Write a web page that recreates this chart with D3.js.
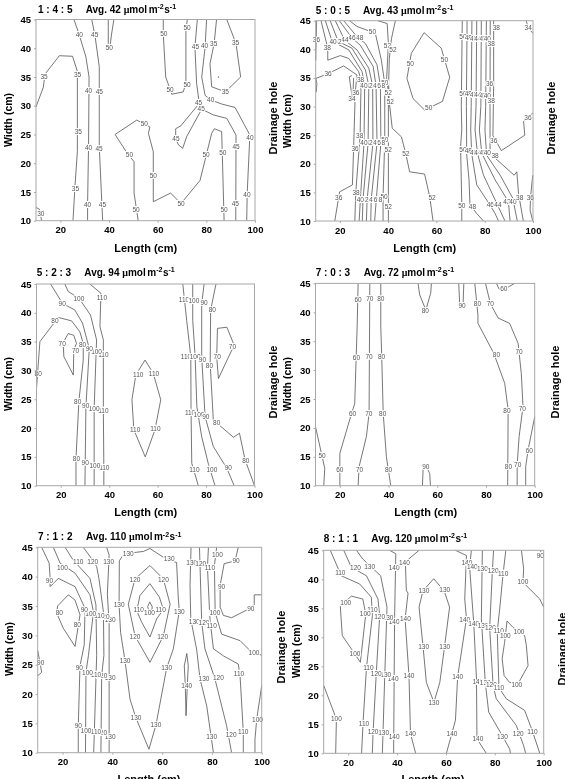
<!DOCTYPE html>
<html>
<head>
<meta charset="utf-8">
<script src="https://cdn.jsdelivr.net/npm/d3@7"></script>
<style>
  html, body { margin: 0; padding: 0; background: #fff; overflow: hidden; }
  text { font-family: "Liberation Sans", Arial, sans-serif; }
  /* The figure is monochrome: keep small glyph edges free of colour fringes. */
  #chart { display: block; filter: grayscale(1); }
</style>
</head>
<body>
<svg id="chart" width="565" height="779"></svg>
<script>
// Light-intensity contour maps over the growing bed, one panel per LED ratio.
const ratios = ["1 : 4 : 5", "5 : 0 : 5", "5 : 2 : 3", "7 : 0 : 3", "7 : 1 : 2", "8 : 1 : 1"];
const averages = [42, 43, 94, 72, 110, 120];
const lengthTicks = [20, 40, 60, 80, 100];
const widthTicks = [10, 15, 20, 25, 30, 35, 40, 45];
const lengthDomain = [10, 100];
const widthDomain = [10, 45];

// Isolines: [level, [length, width], [length, width], ...]
const contours145 = [
  [30, [10,12.3],[11.4,12],[12.3,10]],
  [35, [10,29.8],[13,33.2],[13.7,35.5],[19.6,38.7],[25,38.6],[27,36],[27,25],[27,22],[26,15.9],[25.2,10]],
  [40, [25.6,45],[27.8,42.3],[30.5,38.5],[31.8,35],[31.6,22.9],[31.2,13],[31.2,10]],
  [45, [32.9,45],[34.2,42.3],[36,36.8],[36,22.9],[37,13.6],[37.4,10]],
  [50, [39.7,45],[39.7,40.8],[40.4,40.2],[41,42.3],[42,45]],
  [50, [52,10],[50.3,14.8],[50.3,20.3],[48,21.4],[42.5,25],[51.4,27.5],[56.8,26.3],[56.2,25.2],[58.2,22],[58.2,13.3],[65.3,14.8],[69.6,13],[77.4,17],[82.2,25.2],[83.3,26],[86.3,25.5],[86.7,19.4],[87.3,10]],
  [50, [62.3,45],[62.3,42.5],[63.3,35],[65,33],[65.8,32],[70.5,32.4],[71.6,33.9],[71.6,43.1],[72.2,45]],
  [45, [76.3,45],[75.3,40.2],[76,33.9],[77.1,30.4],[69.5,26.5],[67.4,26],[67.4,24.3],[68.5,23.2],[70.3,22.6],[71.9,24.6],[78.1,29.4],[82.9,28.4],[88.4,27.8],[92.2,24.9],[92.1,10]],
  [40, [80.1,45],[79.5,40.2],[78.1,35],[79.5,31.8],[81.8,31],[86.3,30.3],[91.8,29.7],[97.9,24.9],[96.8,14.8],[96.6,10]],
  [35, [84.2,45],[83.2,40.8],[81.5,37.3],[82.2,33.3],[87.8,32.4],[94.1,35],[92.2,40.8],[88.4,45]]
];
const labels145 = [
  [30,12,11.3],
  [35,13.3,35],[35,27.1,35.4],[35,27.4,25.5],[35,26.2,15.6],[35,87.8,32.4],[35,83,40.7],[35,92,41],
  [40,27.8,42.3],[40,31.6,32.6],[40,31.6,22.7],[40,31.2,12.7],[40,79.3,40.4],[40,81.8,31],[40,97.9,24.5],[40,96.7,14.6],
  [45,34.1,42.3],[45,36,32.5],[45,35.9,22.6],[45,37.3,12.7],[45,75.5,40.2],[45,76.8,30.5],[45,77.9,29.5],[45,67.5,24.3],[45,92.2,22.8],[45,91.9,12.9],
  [50,40.1,40.1],[50,54.5,26.9],[50,48.4,21.4],[50,58.2,17.8],[50,51.1,11.9],[50,69.6,13],[50,79.9,21.5],[50,86.8,21.8],[50,87.3,11.9],[50,62.5,42.5],[50,65.1,32.7],[50,72.1,43.5],[50,72.1,33.6]
];
const samplePoint145 = [85, 35];

const contours505 = [
  [36, [10.4,45],[10.2,41.9],[10,38]],
  [36, [10,35],[10.5,34],[10.2,32.5]],
  [36, [10,34.9],[15.4,35.8],[21.6,37.1],[27.1,35.5],[26.4,32.6],[25.7,22.6],[25.2,16.3],[19.9,15.1],[17.9,10]],
  [34, [25,35.4],[23.9,35.2],[25,31.9],[25.4,31.5],[25.7,35]],
  [38, [12.2,45],[15,40.2],[15,38.1],[20.2,38.9],[23.7,38.4],[27.8,36.1],[28.8,34.6],[28.4,25],[26.6,15],[26.2,10]],
  [40, [14,45],[16.8,41.4],[23.7,39.9],[29.2,36.1],[30.3,33.8],[30,23.6],[28.5,13.8],[28,10]],
  [42, [16,45],[19.3,41.4],[25,40.2],[30.6,36.4],[32,33.6],[31.7,23.6],[29.6,13.8],[29.3,10]],
  [44, [18.1,45],[22,41.6],[27.1,39.9],[32,36.7],[33.6,33.6],[33.7,23.6],[31.3,13.8],[31,10]],
  [46, [19.8,45],[25,42],[28.5,40.7],[33.8,37],[35,33.6],[35.4,23.6],[33,13.8],[32.8,10]],
  [48, [21.6,45],[27.1,42.2],[30.6,41],[35.4,37.3],[36.8,33.6],[37,23.6],[35.1,13.8],[34.4,10]],
  [50, [24,45],[27.1,44],[34.7,42.8],[37.2,38.1],[38.6,34],[38.6,24.2],[37.9,14.3],[37.9,10]],
  [52, [35.7,45],[39.6,44.5],[40.1,41],[39.4,35],[40.1,32.5],[40.1,10]],
  [52, [43,45],[41.4,41.9],[40.5,38.4],[40.2,34],[40.4,31],[41.7,26.2],[45.5,24.7],[47.3,21.8],[48.9,18.6],[55.1,18.2],[57.2,14.3],[58.6,10]],
  [50, [54.9,42.9],[62,40.2],[65.5,35.1],[62.5,30.9],[55.1,29.4],[50.3,31.4],[47.8,34.9],[49.6,39.3],[54.9,42.9]],
  [50, [70.7,45],[70.3,30],[70.5,25.9],[70,23],[70.5,13.1],[70.5,10]],
  [48, [72.7,45],[72.4,30],[72.5,25.9],[72.5,21.8],[73.5,17.2],[73.9,12.8],[76.7,11.3],[79.5,10]],
  [46, [74.7,45],[74.4,30],[74.2,25.9],[74.6,21.8],[76.7,16.3],[82.2,12.8],[84.3,11.3],[85.7,10]],
  [44, [76.7,45],[76.4,30],[76,25.9],[77,21.8],[79.5,18],[85.3,12.8],[88.4,10]],
  [42, [78.6,45],[78.4,30],[77.8,25.9],[78.8,21.8],[84.3,17.2],[89.8,13.4],[90.5,10]],
  [40, [80.7,45],[80.4,30],[80.1,25.9],[80.8,21.5],[86.4,18],[91.6,14],[93.5,10]],
  [38, [82.3,45],[82.2,30],[82.2,25.9],[82.2,22.1],[84.3,21],[92.2,18],[93.3,18.6],[94,14.8],[96,10]],
  [36, [83.7,45],[83.7,34],[83.4,24.9],[86.9,22.3],[96.6,25],[96.1,27.4],[100,28.9]],
  [34, [97.2,45],[98,43.7],[100,42.8]],
  [36, [99.9,18],[99,14.3],[98.8,11.9],[99.9,10]]
];
const labels505 = [
  [34,25,31.3],[34,98,43.7],
  [36,10.3,41.6],[36,15.1,35.8],[36,26.6,32.5],[36,26.3,22.6],[36,19.5,14],[36,82,33.9],[36,83.7,24],[36,97.9,28.1],[36,98.9,14.1],
  [38,14.8,40.2],[38,28.6,34.6],[38,28.2,24.9],[38,26.7,15],[38,84.8,43.7],[38,82.7,41],[38,82.7,31.1],[38,84.3,21.4],[38,94.5,14],
  [40,17.2,41.3],[42,19.2,41.4],[44,22.1,41.6],[46,25,42],[48,28.2,42],[50,33.5,43],[52,39.7,40.6],[52,42,40],
  [40,30,33.6],[42,32.1,33.6],[44,33.7,33.6],[46,35.5,33.6],[48,37.3,33.6],[50,38.6,34.1],
  [40,30,23.7],[42,32.1,23.7],[44,33.7,23.7],[46,35.5,23.7],[48,37.3,23.7],[50,38.6,24.2],
  [40,28.5,13.8],[42,30.4,13.8],[44,32.1,13.8],[46,34,13.8],[48,36.1,13.8],[50,38.3,14.3],
  [52,40,32.4],[52,40.9,30.9],[52,40,22.4],[52,47.3,21.8],[52,58.2,14.1],[52,40.1,12.5],
  [50,49.2,37.5],[50,63.3,38.2],[50,56.8,29.8],
  [50,71,42.2],[48,73.2,42.1],[46,75.4,41.9],[44,77.2,41.9],[42,79.3,41.8],[40,81.1,41.8],
  [50,71,32.3],[48,73.2,32.2],[46,75.4,32],[44,77.2,32],[42,79.3,31.9],[40,81.1,31.9],
  [50,71,22.4],[48,73.2,22.2],[46,75.4,22],[44,77.2,22],[42,79.3,21.9],[40,81.1,21.9],
  [50,70.5,12.6],[48,74.9,12.5],[46,82.3,12.8],[44,85.5,12.8],[42,89.2,13.3],[40,91.7,13.4]
];

const contours523 = [
  [80, [10,26.9],[11.4,35],[19,39.2],[24.5,38.6],[27.9,36.7],[29.3,34.7],[29.3,31.8],[27.5,24.6],[26.3,14.7],[26.3,10]],
  [70, [21,34.8],[23.1,36.4],[25.4,36.1],[26.5,34.7],[25.4,33.5],[25.2,29.2],[21.3,32.4],[21,34.8]],
  [90, [15.8,45],[20.8,41.6],[25.8,40.5],[29,38.2],[31.8,33.8],[30.4,23.7],[30,10]],
  [100, [21.7,45],[23.1,43.7],[27.6,42.5],[32.3,39.6],[34.8,35.3],[33.8,23.4],[33.8,10]],
  [110, [32,45],[36.6,43.4],[36.2,37.6],[37.6,35.3],[37.6,23.1],[37.8,13.3],[37.8,10]],
  [110, [54.8,31.8],[58.2,29.5],[61.3,24.9],[58.9,19.7],[54.9,15],[50.2,19.7],[49.4,24.9],[51,29.2],[54.8,31.8]],
  [110, [70.4,45],[72,38.7],[73.7,32.4],[73.8,23.1],[74.1,13.9],[76.8,10]],
  [100, [74.5,45],[74.5,38.7],[75.5,32.4],[76.2,23.7],[78.2,18.5],[81,13.7],[83.7,10]],
  [90, [79.2,45],[78.2,41.6],[78.2,32.4],[79.6,22],[83,16.8],[88.6,13],[91.6,10]],
  [80, [84.1,45],[81.9,40.5],[81.7,31.2],[83,21.4],[91.3,18.4],[93.8,19.1],[96.1,14.5],[100,10]],
  [70, [84.7,37.3],[88.6,37.5],[91.6,34.4],[85.1,28.6],[84.4,32.4],[84.7,37.3]]
];
const labels523 = [
  [70,20.6,34.6],[70,26.1,33.4],[70,84.6,32.3],[70,90.9,34.2],
  [80,10.7,29.5],[80,17.6,38.6],[80,29,34.4],[80,27,24.6],[80,26.5,14.7],[80,82.6,40.6],[80,81.4,30.8],[80,84.4,21],[80,96.4,14.3],
  [90,20.6,41.5],[90,31.8,33.7],[90,30.3,23.8],[90,30.1,14],[90,79.2,41.7],[90,78.5,31.8],[90,79.9,22],[90,89.2,13.2],
  [100,27.5,42.4],[100,34.8,33.3],[100,33.8,23.4],[100,34.1,13.5],[100,75,42.1],[100,75.5,32.3],[100,77.1,22.4],[100,82.4,12.7],
  [110,37,42.7],[110,37.6,32.8],[110,37.6,23],[110,38,13.1],[110,52,29.3],[110,58.5,29.4],[110,50.7,19.7],[110,59.1,19.8],[110,70.9,42.2],[110,71.7,32.4],[110,73.4,22.6],[110,75.2,12.7]
];

const contours703 = [
  [50, [10,20.2],[13.8,13],[13.4,10]],
  [60, [27.5,45],[27.1,37.5],[26.1,24.2],[24.8,22.5],[20,15.6],[20,10]],
  [70, [32.3,45],[32,22.5],[30.9,18.5],[27.9,13.3],[27.5,10]],
  [80, [36.8,45],[36.8,37.5],[37.2,32.3],[37.8,22.5],[39.1,15],[40.9,10]],
  [80, [52.1,45],[52.8,43],[55.3,40.4],[57.3,43.3],[57.6,45]],
  [90, [68.8,45],[69.2,41.5],[70.6,41.5],[70.9,45]],
  [80, [75.4,45],[76.7,39.5],[76.7,38.1],[83.2,32.9],[87.7,27.7],[89.1,23.1],[88.9,10]],
  [70, [79.8,45],[81.8,41.5],[85,39],[89.7,38.1],[93.2,34.6],[94.5,29.4],[95.2,23.7],[93.6,18.5],[92.8,13.6],[92.8,10]],
  [60, [84.3,45],[85.4,44],[87.3,43.9],[89.7,44.5],[91.8,45]],
  [60, [100,21.9],[97.3,16.2],[96.3,13.3],[96.3,10]],
  [90, [53.9,10],[54.2,13],[55.6,13.3],[56.9,12.1],[57.2,10]]
];
const labels703 = [
  [50,12.7,15.1],
  [60,27.5,42.1],[60,26.8,32.2],[60,25.2,22.4],[60,20,12.8],[60,87.3,44],[60,97.8,16],
  [70,32.3,42.3],[70,32,32.4],[70,31.9,22.5],[70,28.1,12.7],[70,81.8,41.5],[70,93.6,33.2],[70,94.9,23.4],[70,93,13.6],
  [80,36.8,42.3],[80,37.1,32.4],[80,37.6,22.5],[80,40,12.7],[80,55.1,40.3],[80,76.5,41.5],[80,84.3,32.6],[80,88.6,23],[80,89.2,13.2],
  [90,70.2,41.2],[90,55.3,13.3]
];

const contours712 = [
  [90, [11.6,45],[14.6,42.3],[15,39.7],[15,38.3],[18.3,39.7],[25,38.3],[29,34.6],[28.7,28.4],[27,24.8],[26.3,14.6],[26.3,10]],
  [80, [18,35],[22.3,36.9],[25,36],[27,33.5],[25,28.1],[20.3,31.2],[17.6,33.8],[18,35]],
  [100, [16.3,45],[19,42.3],[25,40.6],[31,36.9],[32.4,34],[30.4,26.6],[29.4,23.7],[29.2,10]],
  [110, [21,45],[24.3,42.8],[31,39.7],[33.4,35.2],[33.7,26.6],[32.5,10]],
  [120, [28.3,45],[31.6,43.1],[33.7,41.7],[34.6,39.7],[36.4,34],[36.6,26.6],[35.7,23.1],[35.4,10]],
  [130, [37.7,45],[38.7,43.7],[38,37],[38.7,32],[38.7,26.6],[38.7,10]],
  [130, [44.7,43.9],[52.5,44.3],[55.1,44.8],[61.2,43.1],[65.8,42.4],[66.5,36.2],[66.9,34.2],[64.5,27.7],[61.8,24.4],[57.5,14.7],[54.7,10.6],[49.5,15.9],[47.1,19.1],[45.1,25.6],[43.3,30.5],[42.7,35.3],[42.8,42.7],[44.7,43.9]],
  [120, [55.1,41.9],[60.5,39.6],[63.2,35.3],[60.5,29.9],[55.1,25.4],[49.1,29.9],[46.4,35.3],[49.1,39.6],[55.1,41.9]],
  [110, [55.1,38.8],[58.9,36.5],[60.5,34.4],[57.8,32.8],[55.1,29.7],[51.8,32.2],[49.8,34.2],[51.1,36.8],[55.1,38.8]],
  [100, [55,35.7],[54.2,34.9],[54.5,34.4],[55.9,34.4],[56,34.9],[55,35.7]],
  [140, [69.9,26.9],[68.9,24.8],[69.3,21.4],[69.6,16.3],[70.1,21.4],[70.5,24.8],[69.9,26.9]],
  [130, [71.6,45],[71.2,38.5],[71.5,32.8],[73.9,27.5],[75.2,22.6],[77.9,18],[80.6,10]],
  [120, [75,45],[75.2,42.2],[75.9,32.2],[77.2,27.7],[81.2,22.6],[85.9,14.6],[87.9,10]],
  [110, [78.6,45],[78.2,41.6],[79.2,32.8],[80.6,27.7],[84.6,26.5],[90.6,25.1],[91.3,23.1],[92.6,13.6],[92.6,10]],
  [100, [81.9,45],[81,41.9],[81.3,33.9],[83.9,30.2],[91.3,29.1],[95.3,27.4],[100,26.6]],
  [90, [90.6,45],[89.3,42.7],[84.9,42.2],[83.3,38.5],[83.3,34.8],[84.6,33.4],[87.9,33],[95.3,34.6],[97,35.2],[97,36.9],[100,36.9]],
  [90, [10,27.4],[10.9,25.4],[11.6,23.7],[10,23.1]],
  [100, [100,21.4],[98,15.7],[97.3,12.3],[97.3,10]]
];
const labels712 = [
  [80,18.7,33.8],[80,25.9,31.8],
  [90,14.7,39.3],[90,28.7,34.4],[90,26.7,24.5],[90,26.3,14.6],[90,89.7,42.7],[90,83.9,38.3],[90,95.6,34.6],[90,11.2,25.4],
  [100,19.9,41.6],[100,31.3,33.6],[100,30,23.7],[100,29.4,13.8],[100,54.9,33.9],[100,82.2,43.7],[100,81.2,33.8],[100,96.9,27.1],[100,98.3,15.7],
  [110,26.3,42.6],[110,34.8,33.4],[110,33.4,23.3],[110,33.4,13.5],[110,50.6,34.3],[110,59.4,34.3],[110,79.2,41.5],[110,79.9,31.6],[110,90.9,23.5],[110,92.6,13.6],
  [120,32.1,42.6],[120,36.7,33.2],[120,35.8,23.2],[120,35.7,13.4],[120,49.1,39.4],[120,60.5,39.4],[120,49.1,29.8],[120,60.2,29.8],[120,75.5,42.2],[120,76.8,32.2],[120,82.6,22.7],[120,87.7,13],
  [130,38.5,42.6],[130,39.1,32.7],[130,39.1,22.7],[130,39.1,12.8],[130,46.4,43.9],[130,62.8,43.1],[130,42.7,35.3],[130,66.9,34.1],[130,45.1,25.6],[130,61.8,24.4],[130,49.5,15.9],[130,57.5,14.7],[130,71.9,42.3],[130,72.9,32.3],[130,76.8,22.6],[130,79.9,12.8],
  [140,69.9,21.4]
];

const contours811 = [
  [100, [10,21.7],[15.2,15.9],[14.9,10]],
  [100, [16.8,35.3],[21.3,37.1],[26,36.6],[27.2,34],[25,25.7],[17.6,30.3],[16.8,35.3]],
  [110, [12.7,45],[17.2,40.6],[24.7,39.2],[29.5,36.9],[29.9,33.7],[27.5,24.8],[26.1,15.3],[25.5,10]],
  [120, [18.2,45],[21.3,42.1],[27.5,40.6],[32.2,36.6],[32.9,33.7],[31.5,23.7],[30.2,13.6],[29.9,10]],
  [130, [23.4,45],[26,43.5],[33.3,40.6],[35.9,35.2],[35,23.7],[34,10]],
  [140, [37,45],[39.5,44.4],[39,33.2],[38.6,10]],
  [140, [49,45],[43.4,43],[43.8,38.1],[44.5,37.6],[43.3,33.2],[44.9,23.3],[45.5,13.4],[47.6,10]],
  [130, [55,40.1],[59.3,38],[61.5,35.2],[59.5,28.6],[57.5,22.2],[55.1,18.8],[52,22.2],[50.6,28.6],[49,35.2],[50.6,38],[55,40.1]],
  [140, [63.9,45],[68.4,44.1],[67.7,36.6],[68.4,33.2],[64.8,23.2],[63.9,15.7],[60.2,10]],
  [140, [70.4,45],[69.7,42.1],[71.4,32.3],[72.5,22.8],[72.7,12.5],[76.5,10]],
  [130, [74.9,45],[74.5,33.2],[76.1,22.2],[77.5,17.1],[83.4,12.8],[86.1,10.7],[86.4,10]],
  [120, [79.5,45],[79,41.5],[77.9,31.6],[79.3,21.7],[80.6,19.4],[88.8,14.8],[91.8,11.3],[92.6,10]],
  [110, [84.5,45],[83.4,41],[82,34.9],[81,31],[81.7,21.3],[84.7,19.4],[92.2,17.4],[95.4,13.8],[98.4,10]],
  [100, [90.9,45],[91.8,41.8],[91.5,39.5],[98.4,36.6],[100,35.2]],
  [90, [98.5,45],[100,44]],
  [100, [85,32.8],[87.5,31.7],[92.2,30.3],[92.9,28.6],[93.6,25.1],[89.5,22],[86.1,22.2],[83.8,23.4],[83,26.3],[84,29.1],[85,32.8]]
];
const labels811 = [
  [90,98.6,44],
  [100,15.2,16],[100,19,36],[100,27,34],[100,22.8,27.1],[100,91.5,39.5],[100,89.9,31],[100,84.3,30.2],[100,89,21.9],
  [110,16.8,41.2],[110,29.9,34.8],[110,28.3,24.8],[110,26.5,15.1],[110,83.4,41],[110,81.6,31.1],[110,81.7,21.3],[110,95.4,13.8],
  [120,23,42],[120,32.9,33.6],[120,31.5,23.7],[120,30.2,13.8],[120,79.3,41.5],[120,78.2,31.6],[120,78.6,21.8],[120,89.6,13.4],
  [130,28.8,42.2],[130,36.3,33.3],[130,35.4,23.5],[130,34.5,13.6],[130,51,38],[130,59.5,38.2],[130,50.9,28.3],[130,59.5,28.4],[130,55.1,18.7],[130,74.9,41.9],[130,75.2,32],[130,76.1,22.2],[130,83.1,12.8],
  [140,38.8,42],[140,38.8,32.7],[140,38.4,22.8],[140,38.8,12.9],[140,43,42.9],[140,43.4,33.2],[140,44.9,23.3],[140,45.5,13.4],[140,68.6,42.9],[140,67.7,33],[140,64.8,23.2],[140,62.5,13.4],[140,70.8,42.1],[140,71.4,32.3],[140,73.1,22.4],[140,73.1,12.5]
];

const panelContours = [contours145, contours505, contours523, contours703, contours712, contours811];
const panelLabels = [labels145, labels505, labels523, labels703, labels712, labels811];

// Pixel frame and annotation anchors of each panel.
const layout = [
  { l: 36,    r: 255,   t: 19.5,  b: 220.7, titleX: 38,    avgX: 85.7,  titleY: 12.5,  widthX: 8,   widthY: 120, lengthX: 145.7, lengthY: 247.7, holeX: 273, holeY: 118 },
  { l: 315.7, r: 533,   t: 20.7,  b: 221,   titleX: 315.7, avgX: 363,   titleY: 13.5,  widthX: 287, widthY: 121, lengthX: 424.7, lengthY: 247.7, holeX: 551, holeY: 118 },
  { l: 36.5,  r: 254.5, t: 284,   b: 485.7, titleX: 36.7,  avgX: 84.3,  titleY: 275.5, widthX: 8,   widthY: 384, lengthX: 145.7, lengthY: 511.7, holeX: 273, holeY: 382 },
  { l: 315.5, r: 534.7, t: 283.4, b: 485.7, titleX: 315.7, avgX: 363.7, titleY: 275.5, widthX: 287, widthY: 384, lengthX: 425.7, lengthY: 511.7, holeX: 555, holeY: 382 },
  { l: 37.7,  r: 261.7, t: 547.3, b: 752.7, titleX: 38,    avgX: 86,    titleY: 540,   widthX: 9,   widthY: 649, lengthX: 149,   lengthY: 779,   holeX: 281, holeY: 647 },
  { l: 323.7, r: 543.7, t: 550.3, b: 753.3, titleX: 323.7, avgX: 371.3, titleY: 541.5, widthX: 296, widthY: 651, lengthX: 433,   lengthY: 779,   holeX: 562, holeY: 649 }
];

const INK = "#000";
const LINE = "#4a4a4a";
const FRAME = "#a8a8a8";
const svg = d3.select("#chart");

function drawPanel(i) {
  const box = layout[i];
  const x = d3.scaleLinear().domain(lengthDomain).range([box.l, box.r]);
  const y = d3.scaleLinear().domain(widthDomain).range([box.b, box.t]);
  const g = svg.append("g");

  const line = d3.line().x(d => x(d[0])).y(d => y(d[1]));
  g.append("g").selectAll("path").data(panelContours[i]).join("path")
    .attr("d", d => line(d.slice(1)))
    .attr("fill", "none")
    .attr("stroke", LINE)
    .attr("stroke-width", 0.75);

  // Lower levels are drawn last so they sit on top where labels crowd together.
  const ordered = panelLabels[i].slice().sort((a, b) => b[0] - a[0]);
  g.append("g").selectAll("text").data(ordered).join("text")
    .attr("x", d => x(d[1]))
    .attr("y", d => y(d[2]))
    .attr("dy", "0.35em")
    .attr("text-anchor", "middle")
    .attr("font-size", 6.5)
    .attr("fill", "#555")
    .attr("stroke", "#fff")
    .attr("stroke-width", 2.2)
    .attr("paint-order", "stroke")
    .text(d => d[0]);

  g.append("rect")
    .attr("x", box.l).attr("y", box.t)
    .attr("width", box.r - box.l).attr("height", box.b - box.t)
    .attr("fill", "none").attr("stroke", FRAME).attr("stroke-width", 1);

  const styleAxis = sel => {
    sel.select(".domain").remove();
    sel.selectAll(".tick line").attr("stroke", FRAME);
    sel.selectAll(".tick text")
      .attr("fill", INK).attr("font-size", 9.5).attr("font-weight", "bold")
      .style("font-family", '"Liberation Sans", Arial, sans-serif');
  };
  g.append("g").attr("transform", `translate(0,${box.b})`)
    .call(d3.axisBottom(x).tickValues(lengthTicks).tickSize(2).tickPadding(4).tickFormat(d3.format("d")))
    .call(styleAxis);
  g.append("g").attr("transform", `translate(${box.l},0)`)
    .call(d3.axisLeft(y).tickValues(widthTicks).tickSize(2).tickPadding(3).tickFormat(d3.format("d")))
    .call(styleAxis);

  const bold = (sel, size) => sel.attr("font-weight", "bold").attr("font-size", size).attr("fill", INK);

  g.append("text").attr("x", box.lengthX).attr("y", box.lengthY).attr("dy", "0.35em")
    .attr("text-anchor", "middle").call(bold, 11).text("Length (cm)");
  g.append("text").attr("transform", `translate(${box.widthX},${box.widthY}) rotate(-90)`).attr("dy", "0.35em")
    .attr("text-anchor", "middle").call(bold, 10.5).text("Width (cm)");
  g.append("text").attr("transform", `translate(${box.holeX},${box.holeY}) rotate(-90)`).attr("dy", "0.35em")
    .attr("text-anchor", "middle").call(bold, 11).text("Drainage hole");

  g.append("text").attr("x", box.titleX).attr("y", box.titleY).call(bold, 10).text(ratios[i]);
  const avg = g.append("text").attr("x", box.avgX).attr("y", box.titleY).call(bold, 10);
  avg.append("tspan").text(`Avg. ${averages[i]} `);
  avg.append("tspan").style("font-family", '"Liberation Serif", serif').text("\u03bc");
  avg.append("tspan").text("mol");
  avg.append("tspan").attr("dx", 1.5).text("m");
  avg.append("tspan").attr("dy", -3.5).attr("font-size", 7).text("-2");
  avg.append("tspan").attr("dy", 3.5).attr("dx", 0.5).text("s");
  avg.append("tspan").attr("dy", -3.5).attr("font-size", 7).text("-1");

  if (i === 0) {
    g.append("circle").attr("cx", x(samplePoint145[0])).attr("cy", y(samplePoint145[1]))
      .attr("r", 0.6).attr("fill", "#222");
  }
}

ratios.forEach((_, i) => drawPanel(i));
</script>
</body>
</html>
